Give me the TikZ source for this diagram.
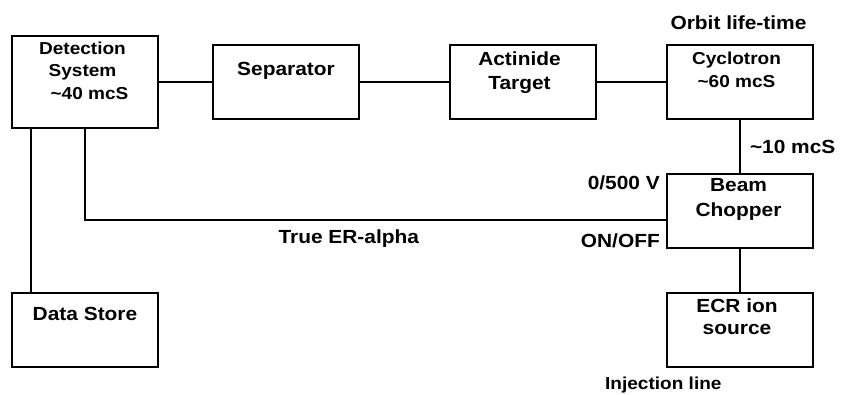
\documentclass[tikz,border=0pt]{standalone}
\usepackage{fontspec}
\setmainfont{Liberation Sans}[FakeStretch=1.1]
\usetikzlibrary{positioning}

\begin{document}
\begin{tikzpicture}[x=1pt, y=1pt,
	b/.style={draw, line width=2pt, minimum width=146pt, minimum height=74pt, inner sep=0pt},
	t/.style={font=\fontsize{19}{24}\selectfont\bfseries, align=center, inner sep=0pt},
	s/.style={font=\fontsize{17.3}{22.7}\selectfont\bfseries, align=center, inner sep=0pt},
	w/.style={line width=2pt}]
	\useasboundingbox (0,0) rectangle (841,-394);

	\node [b, minimum height=92pt] (det) at (85,-82) {};
	\node [b, right=53pt of det] (sep) {};
	\node [b, right=89pt of sep] (act) {};
	\node [b, right=69pt of act] (cyc) {};
	\node [b, below=53pt of cyc] (chop) {};
	\node [b, below=43pt of chop] (ecr) {};
	\node [b] (store) at (det |- ecr) {};

	\node [s, below=6.5pt of det.north, xshift=-2.5pt] (detT) {Detection\\System\\\hspace*{14pt}\textasciitilde40 mcS};
	\node [t, below=18pt of sep.north] (sepT) {Separator};
	\node [t, below=7.5pt of act.north, xshift=-3.5pt] (actT) {Actinide\\Target};
	\node [s, below=7.5pt of cyc.north, xshift=-3.5pt, font=\fontsize{17.3}{23.3}\selectfont\bfseries] (cycT) {Cyclotron\\\textasciitilde60 mcS};
	\node [t, below=5pt of chop.north, xshift=-1.5pt, font=\fontsize{19}{25}\selectfont\bfseries] (chopT) {Beam\\Chopper};
	\node [t, below=7pt of ecr.north, xshift=-3pt, font=\fontsize{19}{22}\selectfont\bfseries] (ecrT) {ECR ion\\source};
	\node [t, below=15.5pt of store.north] (storeT) {Data Store};

	\node [t, above=14.3pt of cyc.north, xshift=-1.5pt] (orbT) {Orbit life-time};
	\node [t, anchor=base east] (voltT) at (660,-189.3) {0/500 V};
	\node [t, anchor=base east] (onT) at (660,-247.3) {ON/OFF};
	\node [t, anchor=base west] (erT) at (278.3,-243.3) {True ER-alpha};
	\node [s, anchor=base west] (injT) at (605,-389) {Injection line};

	\path [w] (det) edge (sep);
	\path [w] (sep) edge (act);
	\path [w] (act) edge (cyc);
	\path [w] (cyc) edge node [t, right=9pt] (tenT) {\textasciitilde10 mcS} (chop);
	\path [w] (chop) edge (ecr);
	\draw [w] (det.south) |- ([yshift=-9pt]chop.west);
	\draw [w] ([xshift=20pt]det.south west) -- ([xshift=20pt]store.north west);
\end{tikzpicture}
\end{document}
